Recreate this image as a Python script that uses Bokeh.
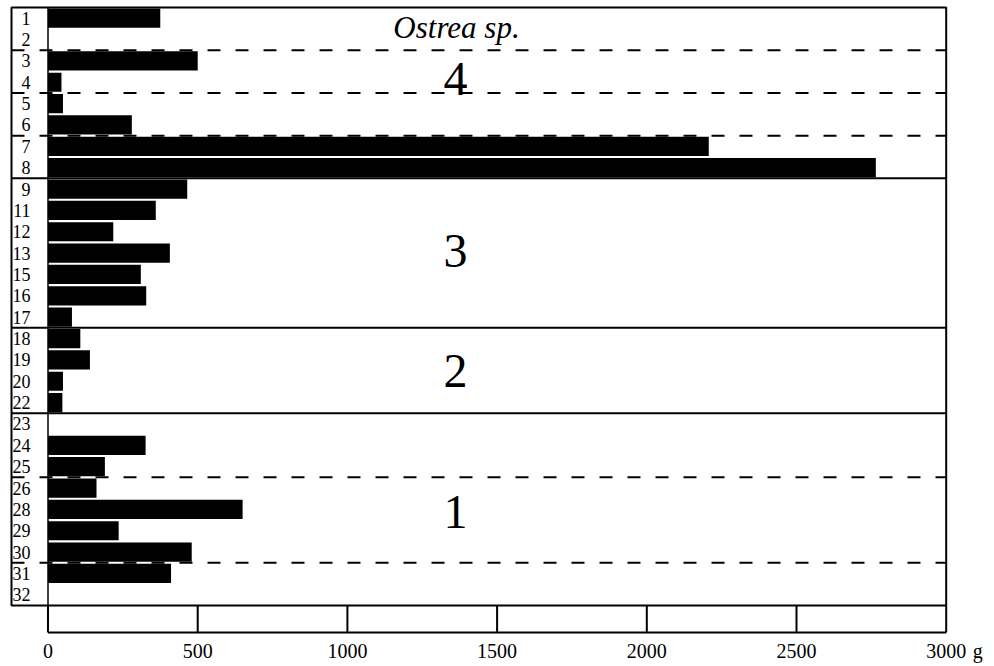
from bokeh.plotting import figure
from bokeh.models import Range1d, ColumnDataSource
from bokeh.core.properties import value
from bokeh.embed import file_html
from bokeh.resources import INLINE

# ---------------- data ----------------
samples = ["1", "2", "3", "4", "5", "6", "7", "8", "9", "11", "12", "13", "15", "16",
           "17", "18", "19", "20", "22", "23", "24", "25", "26", "28", "29", "30", "31", "32"]
weights_g = [375, 0, 500, 45, 50, 280, 2207, 2765, 465, 360, 218, 407, 310, 328,
             80, 108, 140, 50, 48, 0, 326, 190, 162, 650, 236, 480, 411, 0]
sample_group = ["4"] * 8 + ["3"] * 7 + ["2"] * 4 + ["1"] * 9
dashed_after = ["2", "4", "6", "25", "30"]
group_names = ["4", "3", "2", "1"]
tick_values = [0, 500, 1000, 1500, 2000, 2500, 3000]
tick_labels = ["0", "500", "1000", "1500", "2000", "2500", "3000"]
title_text = "Ostrea sp."
unit_text = "g"

# ---------------- layout (screen px) ----------------
W, H = 994, 666
PX_PER_G = 0.2994          # screen px per gram
ZERO_PX = 47.5             # screen x of 0 g
ROW_TOP_PX, ROW_BOT_PX = 7, 605
RULER_PX = 632
TICKLAB_PX = 650
n = len(samples)
ROW_H = (ROW_BOT_PX - ROW_TOP_PX) / n


def gx(px):
    return (px - ZERO_PX) / PX_PER_G


def ry(px):
    return (px - ROW_TOP_PX) / ROW_H


XMAX = tick_values[-1]
BOX_L = gx(11)
LABEL_X = gx(30)
GROUP_X = gx(455)
group_label_y = [ry(78), ry(250), ry(370), ry(511)]
title_x, title_y = gx(456), ry(27)
y_rule = ry(RULER_PX)
y_ticklab = ry(TICKLAB_PX)
unit_x = XMAX + 26.5 / PX_PER_G

p = figure(width=W, height=H,
           x_range=Range1d(gx(0), gx(W)), y_range=Range1d(ry(H), ry(0)),
           output_backend="svg", toolbar_location=None,
           x_axis_location=None, y_axis_location=None,
           min_border_left=0, min_border_right=0, min_border_top=0, min_border_bottom=0,
           outline_line_color=None, background_fill_color="white", border_fill_color="white")
p.grid.visible = False

rows = [i + 0.5 for i in range(n)]
src = ColumnDataSource(dict(row=rows, w=weights_g, lab=samples))

# bars
p.hbar(y="row", height=0.9, left=0, right="w", source=src,
       fill_color="black", line_color=None)

# frame box
p.quad(left=[BOX_L], right=[XMAX], top=[0], bottom=[n], fill_color=None,
       line_color="black", line_width=2)
# label column divider
p.segment(x0=[0], y0=[0], x1=[0], y1=[n], line_color="black", line_width=1.5)

# group separators (solid)
solid_y = [i for i in range(1, n) if sample_group[i] != sample_group[i - 1]]
p.segment(x0=[BOX_L] * len(solid_y), x1=[XMAX] * len(solid_y), y0=solid_y, y1=solid_y,
          line_color="black", line_width=2)
# sub-boundaries (dashed)
dash_y = [samples.index(s) + 1 for s in dashed_after]
p.segment(x0=[BOX_L] * len(dash_y), x1=[XMAX] * len(dash_y), y0=dash_y, y1=dash_y,
          line_color="black", line_width=2, line_dash="13 15")

# ruler: ticks, base line, labels
p.segment(x0=tick_values, x1=tick_values, y0=[n] * len(tick_values),
          y1=[y_rule] * len(tick_values), line_color="black", line_width=2)
p.segment(x0=[tick_values[0]], x1=[XMAX], y0=[y_rule], y1=[y_rule],
          line_color="black", line_width=2)
p.text(x=tick_values, y=[y_ticklab] * len(tick_values), text=tick_labels,
       text_align="center", text_baseline="middle",
       text_font=value("Liberation Serif"), text_font_size="20px", text_color="black")
p.text(x=[unit_x], y=[y_ticklab], text=[unit_text], text_align="left",
       text_baseline="middle", text_font=value("Liberation Serif"),
       text_font_size="20px", text_color="black")

# sample labels
p.text(x=LABEL_X, y="row", text="lab", source=src, text_align="right",
       text_baseline="middle", text_font=value("Liberation Serif"),
       text_font_size="18px", text_color="black")

# group labels
p.text(x=[GROUP_X] * len(group_names), y=group_label_y, text=group_names,
       text_align="center", text_baseline="middle",
       text_font=value("Liberation Serif"), text_font_size="48px", text_color="black")
p.text(x=[title_x], y=[title_y], text=[title_text], text_align="center",
       text_baseline="middle", text_font=value("Liberation Serif"),
       text_font_style="italic", text_font_size="31px", text_color="black")

open("out.html", "w").write(file_html(p, INLINE))
